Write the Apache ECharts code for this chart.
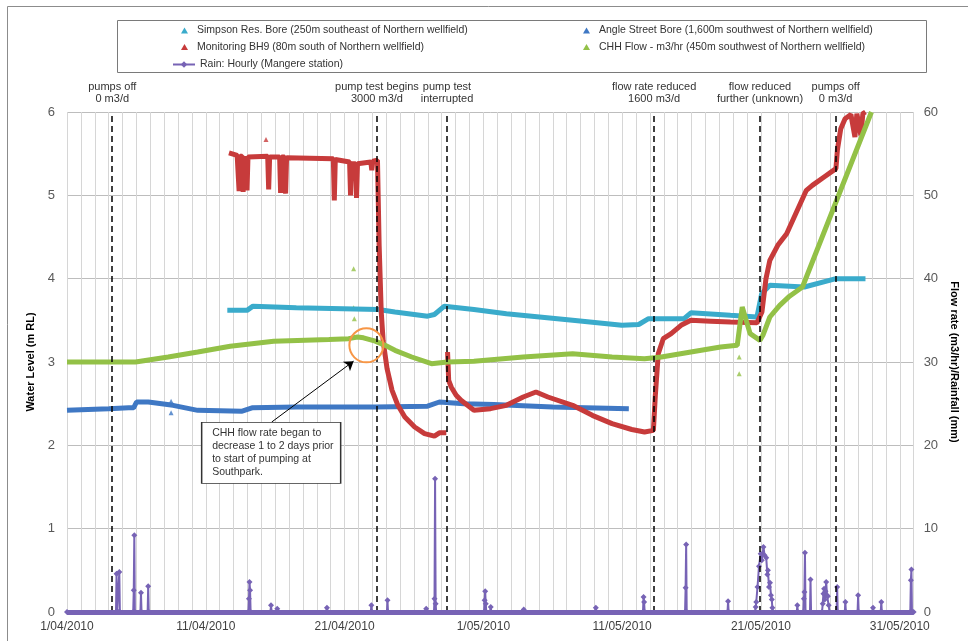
<!DOCTYPE html>
<html><head><meta charset="utf-8">
<script src="https://cdn.jsdelivr.net/npm/echarts@6/dist/echarts.min.js"></script>
<style>html,body{margin:0;padding:0;background:#fff}#c{width:968px;height:641px}</style>
</head><body><div id="c"></div>
<script>
// ---- tick labels ----
const xTickDays = [0, 10, 20, 30, 40, 50, 60];
const xTickLabels = ['1/04/2010', '11/04/2010', '21/04/2010', '1/05/2010', '11/05/2010', '21/05/2010', '31/05/2010'];

// ---- series names ----
const simpsonName = 'Simpson Res. Bore (250m southeast of Northern wellfield)';
const angleName = 'Angle Street Bore (1,600m southwest of Northern wellfield)';
const bh9Name = 'Monitoring BH9 (80m south of Northern wellfield)';
const chhName = 'CHH Flow - m3/hr (450m southwest of Northern wellfield)';
const rainName = 'Rain: Hourly (Mangere station)';

// ---- data (x = days after 1/04/2010 00:00) ----
const simpsonDays = [11.55, 12.97, 13.40, 16.52, 22.42, 23.63, 25.98, 26.47, 27.19, 29.32, 31.66, 36.43, 39.98, 41.19, 41.90, 44.46, 44.95, 47.80, 49.71, 50.05, 50.64, 53.13, 55.40, 57.53];
const simpsonLevel = [3.62, 3.62, 3.67, 3.65, 3.63, 3.60, 3.55, 3.57, 3.67, 3.63, 3.58, 3.50, 3.44, 3.45, 3.52, 3.52, 3.59, 3.56, 3.54, 3.82, 3.92, 3.90, 4.00, 4.00];

const angleDays = [0, 3.02, 4.44, 4.80, 5.01, 5.86, 7.64, 9.42, 12.62, 13.33, 16.52, 22.21, 25.98, 26.83, 28.61, 30.74, 35.00, 40.48];
const angleLevel = [2.42, 2.44, 2.45, 2.45, 2.52, 2.52, 2.48, 2.42, 2.41, 2.45, 2.46, 2.46, 2.47, 2.52, 2.50, 2.49, 2.46, 2.44];
const angleOutDays = [7.50, 7.50];
const angleOutLevel = [2.53, 2.39];

const bh9Days = [11.67, 12.26, 12.33, 12.40, 12.47, 12.62, 12.69, 12.76, 12.90, 12.97, 13.04, 14.46, 14.53, 14.60, 15.32, 15.39, 15.46, 15.68, 15.75, 15.82, 19.19, 19.26, 19.33, 20.36, 20.43, 20.50, 20.79, 20.86, 20.93, 21.89, 21.96, 22.03, 22.37,
  22.49, 22.64, 22.78, 23.06, 23.42, 23.84, 24.34, 25.05, 25.76, 26.47, 26.83, 27.33, 27.37, 27.42, 27.50, 27.68, 28.04, 28.39, 29.32, 30.52, 31.66, 32.87, 33.79, 34.65, 36.43, 37.85, 39.27, 40.69, 41.61, 42.25, 42.39, 42.60, 42.96, 43.53, 44.24, 44.95, 46.37, 47.80, 49.71, 50.07, 50.36, 50.64, 51.21, 51.85, 52.56, 53.27, 53.70, 54.55, 55.40, 55.51, 55.75, 56.06, 56.48, 56.77, 56.91, 57.20, 57.34, 57.53];
const bh9Level = [5.51, 5.48, 5.47, 5.05, 5.47, 5.47, 5.04, 5.47, 5.47, 5.06, 5.46, 5.47, 5.07, 5.46, 5.46, 5.03, 5.46, 5.46, 5.02, 5.45, 5.44, 4.94, 5.43, 5.40, 5.00, 5.38, 5.38, 4.97, 5.38, 5.40, 5.30, 5.41, 5.42,
  4.40, 3.60, 3.25, 2.92, 2.66, 2.48, 2.34, 2.22, 2.14, 2.11, 2.15, 2.15, null, 3.12, 2.78, 2.70, 2.60, 2.54, 2.42, 2.44, 2.48, 2.58, 2.64, 2.58, 2.48, 2.36, 2.26, 2.19, 2.16, 2.18, 2.60, 3.10, 3.28, 3.34, 3.44, 3.50, 3.49, 3.48, 3.47, 3.60, 4.00, 4.22, 4.40, 4.54, 4.80, 5.06, 5.12, 5.22, 5.32, 5.55, 5.80, 5.92, 5.97, 5.70, 5.98, 5.72, 5.98, 6.00];
const bh9OutDays = [14.34];
const bh9OutLevel = [5.67];

const chhDays = [0, 4.94, 7.29, 9.42, 11.76, 14.89, 18.87, 20.29, 20.93, 21.36, 22.21, 22.92, 23.63, 24.84, 26.26, 27.40, 29.32, 32.87, 36.43, 39.27, 41.61, 42.82, 44.95, 47.09, 48.29, 48.65, 49.22, 49.93, 50.14, 50.64, 51.35, 52.06, 52.99, 57.96];
const chhFlow = [30.0, 30.0, 30.6, 31.2, 31.9, 32.5, 32.7, 32.8, 33.0, 32.9, 32.5, 32.0, 31.4, 30.6, 29.8, 30.0, 30.1, 30.6, 31.0, 30.6, 30.4, 30.6, 31.2, 31.8, 32.0, 36.6, 33.4, 32.6, 33.2, 35.4, 36.8, 37.9, 39.0, 60.0];
const chhOutDays = [20.65, 20.65, 20.70, 48.43, 48.43];
const chhOutFlow = [41.2, 36.5, 35.2, 30.6, 28.6];

const rainDays = [0,
  3.53, 3.57, 3.61, 3.73, 3.77, 3.81,
  4.77, 4.81, 4.85, 4.89, 5.29, 5.33, 5.37, 5.81, 5.85, 5.89,
  13.07, 13.11, 13.15, 13.19, 13.23,
  14.66, 14.70, 14.74, 15.11, 15.15, 15.19,
  18.69, 18.73, 18.77, 21.89, 21.93, 21.97, 23.05, 23.09, 23.13,
  25.84, 25.88, 25.92, 26.44, 26.48, 26.52, 26.56, 26.60,
  30.05, 30.09, 30.13, 30.17, 30.21, 30.49, 30.53, 30.57,
  32.87, 32.91, 32.95, 38.06, 38.10, 38.14,
  41.50, 41.54, 41.58, 41.62,
  44.53, 44.57, 44.61, 44.65,
  47.59, 47.63, 47.67,
  49.58, 49.62, 49.66, 49.75, 49.86, 49.98, 50.06, 50.18, 50.26, 50.38, 50.46, 50.50, 50.58, 50.65, 50.72, 50.78, 50.82, 50.86,
  52.58, 52.62, 52.66,
  53.05, 53.09, 53.13, 53.17, 53.21, 53.53, 53.57, 53.61,
  54.40, 54.45, 54.50, 54.55, 54.60, 54.65, 54.70, 54.76, 54.82, 54.88, 54.94,
  55.45, 55.49, 55.53, 56.04, 56.08, 56.12, 56.96, 57.00, 57.04,
  58.03, 58.07, 58.11, 58.63, 58.67, 58.71,
  60.76, 60.80, 60.84, 60.88, 61];
const rainMm = [0,
  0, 4.6, 0, 0, 4.8, 0,
  0, 2.6, 9.2, 0, 0, 2.3, 0, 0, 3.1, 0,
  0, 1.6, 3.6, 2.6, 0,
  0, 0.8, 0, 0, 0.4, 0,
  0, 0.5, 0, 0, 0.8, 0, 0, 1.4, 0,
  0, 0.4, 0, 0, 1.6, 16.0, 1.0, 0,
  0, 1.4, 2.5, 1.0, 0, 0, 0.6, 0,
  0, 0.3, 0, 0, 0.5, 0,
  0, 1.8, 1.2, 0,
  0, 2.9, 8.1, 0,
  0, 1.3, 0,
  0, 0.6, 1.2, 3.0, 5.5, 7.0, 6.2, 7.8, 6.8, 6.5, 4.5, 5.0, 3.0, 3.5, 2.0, 1.5, 0.5, 0,
  0, 0.8, 0,
  0, 1.6, 2.4, 7.1, 0, 0, 3.9, 0,
  0, 1.0, 2.2, 2.8, 1.5, 2.5, 3.6, 2.0, 1.9, 0.8, 0,
  0, 3.0, 0, 0, 1.2, 0, 0, 2.0, 0,
  0, 0.5, 0, 0, 1.2, 0,
  0, 3.8, 5.1, 0, 0];

// ---- events / annotation ----
const eventDays = [3.26, 22.33, 27.38, 42.30, 49.93, 55.38];
const eventLabels = ['pumps off\n0 m3/d', 'pump test begins\n3000 m3/d', 'pump test\ninterrupted', 'flow rate reduced\n1600 m3/d', 'flow reduced\nfurther (unknown)', 'pumps off\n0 m3/d'];
const noteText = 'CHH flow rate began to\ndecrease 1 to 2 days prior\nto start of pumping at\nSouthpark.';
const notePoint = [14.71, 1.91];
const arrowFrom = [14.75, 2.28];
const arrowTo = [20.65, 3.01];
const circlePoint = [21.57, 3.20];

const zip = (a, b) => a.map((d, i) => [d, b[i]]);
const FONT = "'Liberation Sans', Arial, sans-serif";
const C = { simpson: '#3AABCB', angle: '#3F78C4', bh9: '#C73B3B', chh: '#93C147', rain: '#7763B5' };

const chart = echarts.init(document.getElementById('c'), null, { renderer: 'canvas' });
const legendText = { fontSize: 10.5, color: '#333', fontFamily: FONT, padding: [0, 0, 0, 4] };

chart.setOption({
  animation: false,
  textStyle: { fontFamily: FONT },
  grid: { left: 67, right: 43, top: 112, bottom: 29 },
  graphic: [
    { type: 'rect', silent: true, z: -10, shape: { x: 7.5, y: 6.5, width: 1000, height: 700 }, style: { fill: 'none', stroke: '#8c8c8c', lineWidth: 1 } },
    { type: 'rect', silent: true, shape: { x: 117.5, y: 20.5, width: 809, height: 52 }, style: { fill: 'none', stroke: '#7a7a7a', lineWidth: 1 } }
  ],
  legend: [
    { left: 176, top: 20, orient: 'vertical', itemWidth: 7, itemHeight: 6, itemGap: 5.4, icon: 'triangle', data: [simpsonName, bh9Name], textStyle: legendText },
    { left: 167, top: 54, orient: 'vertical', itemWidth: 22, itemHeight: 8, data: [rainName], textStyle: Object.assign({}, legendText, { padding: [0, 0, 0, 0] }) },
    { left: 578, top: 20, orient: 'vertical', itemWidth: 7, itemHeight: 6, itemGap: 5.4, icon: 'triangle', data: [angleName, chhName], textStyle: legendText }
  ],
  xAxis: {
    type: 'value', min: 0, max: 61, interval: 1,
    axisLine: { show: false }, axisTick: { show: false },
    axisLabel: {
      fontSize: 12, color: '#404040', margin: 9,
      formatter: v => { const i = xTickDays.indexOf(Math.round(v)); return (Math.abs(v - Math.round(v)) < 1e-6 && i >= 0) ? xTickLabels[i] : ''; }
    },
    splitLine: { show: true, lineStyle: { color: '#d6d6d6', width: 1 } }
  },
  yAxis: [
    {
      type: 'value', min: 0, max: 6, interval: 1, position: 'left',
      name: 'Water Level (m RL)', nameLocation: 'middle', nameGap: 28,
      nameTextStyle: { fontWeight: 'bold', fontSize: 11, color: '#000' },
      axisLine: { show: false }, axisTick: { show: false },
      axisLabel: { fontSize: 13, color: '#595959', margin: 12 },
      splitLine: { show: true, lineStyle: { color: '#bdbdbd', width: 1 } }
    },
    {
      type: 'value', min: 0, max: 60, interval: 10, position: 'right',
      name: 'Flow rate (m3/hr)/Rainfall (mm)', nameLocation: 'middle', nameGap: 35, nameRotate: -90,
      nameTextStyle: { fontWeight: 'bold', fontSize: 11, color: '#000' },
      axisLine: { show: false }, axisTick: { show: false },
      axisLabel: { fontSize: 13, color: '#595959', margin: 10 },
      splitLine: { show: false }
    }
  ],
  series: [
    {
      name: simpsonName, type: 'line', yAxisIndex: 0, showSymbol: false, symbol: 'triangle',
      data: zip(simpsonDays, simpsonLevel),
      lineStyle: { color: C.simpson, width: 5 }, itemStyle: { color: C.simpson },
      markLine: {
        silent: true, symbol: ['none', 'arrow'], symbolSize: 9,
        lineStyle: { color: '#000', type: 'solid', width: 1 },
        label: { show: false },
        data: [[{ coord: arrowFrom }, { coord: arrowTo }]]
      }
    },
    {
      name: angleName, type: 'line', yAxisIndex: 0, showSymbol: false, symbol: 'triangle',
      data: zip(angleDays, angleLevel),
      lineStyle: { color: C.angle, width: 5 }, itemStyle: { color: C.angle },
      markLine: {
        silent: true, symbol: ['none', 'none'],
        lineStyle: { color: '#000', type: [6, 4], width: 1.5 },
        label: { show: true, position: 'end', formatter: p => p.name, fontSize: 11, color: '#333', lineHeight: 12, distance: 7 },
        data: eventDays.map((d, i) => ({ xAxis: d, name: eventLabels[i] }))
      },
      markPoint: {
        silent: true,
        data: [
          { coord: circlePoint, symbol: 'circle', symbolSize: 34, itemStyle: { color: 'rgba(0,0,0,0)', borderColor: '#F79646', borderWidth: 2 }, label: { show: false } },
          { coord: notePoint, symbol: 'rect', symbolSize: [139, 61], itemStyle: { color: '#fff', borderColor: '#333', borderWidth: 1 },
            label: { show: true, position: 'inside', formatter: noteText, align: 'left', offset: [-59, 0], color: '#333', fontSize: 10.5, lineHeight: 13 } }
        ]
      }
    },
    { name: angleName, type: 'scatter', yAxisIndex: 0, symbol: 'triangle', symbolSize: 5, data: zip(angleOutDays, angleOutLevel), itemStyle: { color: C.angle } },
    {
      name: bh9Name, type: 'line', yAxisIndex: 0, showSymbol: false, symbol: 'triangle', connectNulls: false,
      data: zip(bh9Days, bh9Level),
      lineStyle: { color: C.bh9, width: 5 }, itemStyle: { color: C.bh9 }
    },
    { name: bh9Name, type: 'scatter', yAxisIndex: 0, symbol: 'triangle', symbolSize: 5, data: zip(bh9OutDays, bh9OutLevel), itemStyle: { color: C.bh9 } },
    {
      name: chhName, type: 'line', yAxisIndex: 1, showSymbol: false, symbol: 'triangle',
      data: zip(chhDays, chhFlow),
      lineStyle: { color: C.chh, width: 5 }, itemStyle: { color: C.chh }
    },
    { name: chhName, type: 'scatter', yAxisIndex: 1, symbol: 'triangle', symbolSize: 5, data: zip(chhOutDays, chhOutFlow), itemStyle: { color: C.chh } },
    {
      name: rainName, type: 'line', yAxisIndex: 1, showSymbol: true, symbol: 'diamond', symbolSize: 6,
      data: zip(rainDays, rainMm),
      lineStyle: { color: C.rain, width: 2 }, itemStyle: { color: C.rain },
      markLine: {
        silent: true, symbol: ['none', 'none'],
        lineStyle: { color: C.rain, type: 'solid', width: 5 },
        label: { show: false },
        data: [{ yAxis: 0 }]
      }
    }
  ]
});
</script></body></html>
